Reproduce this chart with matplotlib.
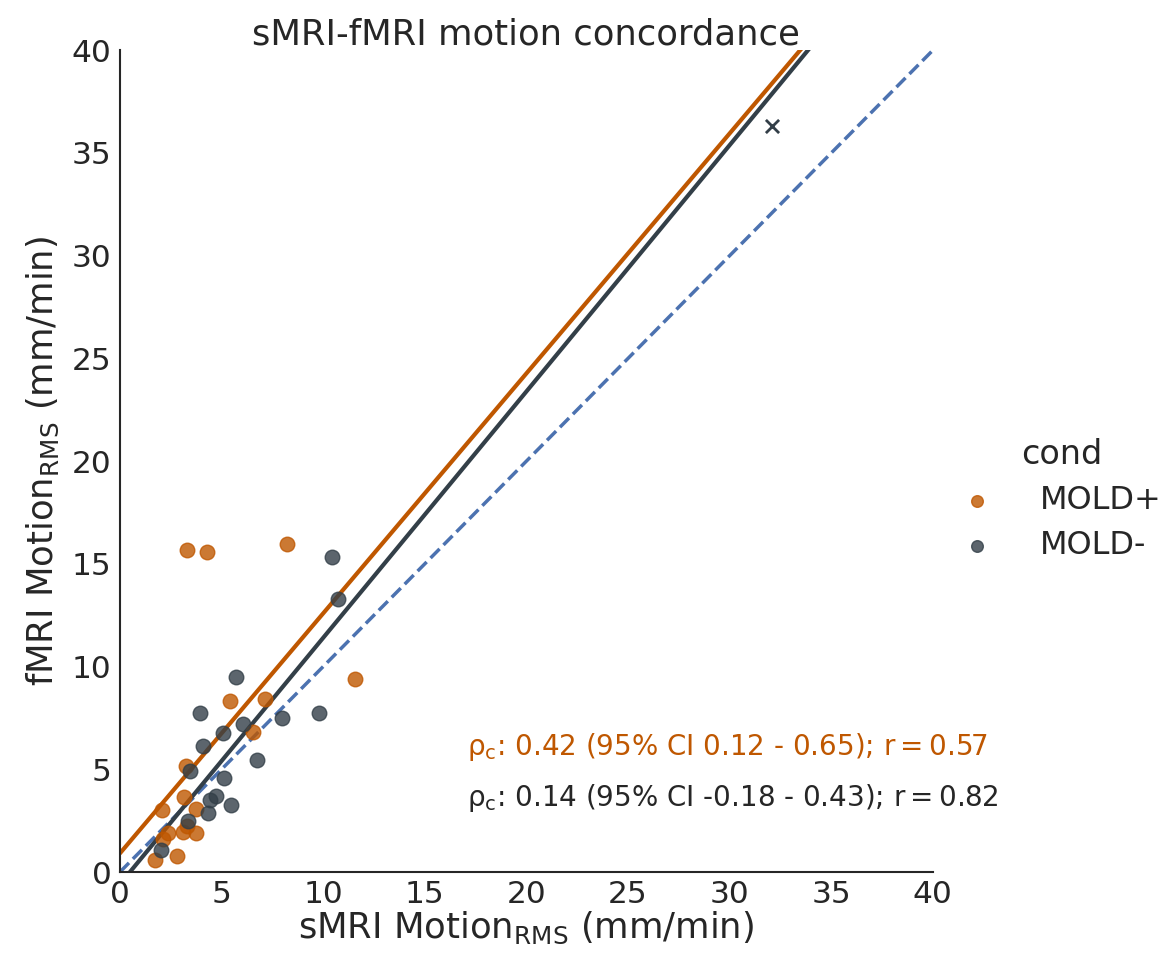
import numpy as np
import matplotlib
matplotlib.use("Agg")
import matplotlib.pyplot as plt
import seaborn as sns

sns.set_style("white")
plt.rcParams['font.family'] = ['DejaVu Sans']
plt.rcParams['mathtext.default'] = 'regular'

ORANGE = "#BF5700"
CHARCOAL = "#333F48"
BLUE = "#4C72B0"

# MOLD+ (sMRI, fMRI) motion values
plus_x = [3.28, 4.26, 8.20, 11.56, 5.41, 7.13, 6.53, 3.23, 3.15, 3.74, 2.05,
          2.38, 2.13, 3.08, 3.74, 3.30, 1.72, 2.79]
plus_y = [15.67, 15.59, 15.96, 9.38, 8.32, 8.42, 6.80, 5.16, 3.67, 3.08, 3.02,
          1.91, 1.63, 1.96, 1.88, 2.25, 0.58, 0.78]
# MOLD- values
minus_x = [10.45, 10.74, 5.69, 3.94, 9.79, 7.99, 6.07, 5.08, 4.10, 6.72, 3.44,
           5.12, 4.71, 4.43, 5.45, 4.31, 3.33, 2.00]
minus_y = [15.34, 13.27, 9.51, 7.75, 7.75, 7.51, 7.20, 6.75, 6.13, 5.45, 4.91,
           4.59, 3.70, 3.50, 3.24, 2.85, 2.50, 1.07]
# excluded outlier
out_x, out_y = [32.08], [36.30]

# fitted lines (intercept, slope)
plus_fit = (0.91, 1.168)
minus_fit = (-0.59, 1.199)

fig = plt.figure(figsize=(11.6, 9.66), dpi=100)
ax = fig.add_axes([0.1034, 0.0973, 0.7008, 0.8507])

xs = np.array([0, 40])
ax.plot(xs, xs, "--", color=BLUE, lw=2.5, zorder=1)
ax.plot(xs, plus_fit[0] + plus_fit[1]*xs, color=ORANGE, lw=3, zorder=2)
ax.plot(xs, minus_fit[0] + minus_fit[1]*xs, color=CHARCOAL, lw=3, zorder=2)

ax.scatter(plus_x, plus_y, s=110, color=ORANGE, alpha=0.8, edgecolor=ORANGE,
           linewidth=1, label="MOLD+", zorder=3)
ax.scatter(minus_x, minus_y, s=110, color=CHARCOAL, alpha=0.8, edgecolor=CHARCOAL,
           linewidth=1, label="MOLD-", zorder=3)
ax.scatter(out_x, out_y, marker="x", s=90, color=CHARCOAL, linewidth=2, zorder=3)

ax.text(17.1, 5.7, r"$\rho_c$: 0.42 (95% CI 0.12 - 0.65); $r = 0.57$",
        color=ORANGE, fontsize=20)
ax.text(17.1, 3.2, r"$\rho_c$: 0.14 (95% CI -0.18 - 0.43); $r = 0.82$",
        color="#262626", fontsize=20)

ax.set_xlim(0, 40); ax.set_ylim(0, 40)
ax.set_xticks(range(0, 41, 5)); ax.set_yticks(range(0, 41, 5))
ax.tick_params(labelsize=22.5, colors="#262626", length=0, pad=6)
ax.set_xlabel(r"sMRI Motion$_{RMS}$ (mm/min)", fontsize=25.5, color="#262626", labelpad=0)
ax.set_ylabel(r"fMRI Motion$_{RMS}$ (mm/min)", fontsize=25.5, color="#262626", labelpad=8)
ax.set_title("sMRI-fMRI motion concordance", fontsize=25.5, color="#262626", pad=4)
for s in ["top", "right"]:
    ax.spines[s].set_visible(False)
for s in ["left", "bottom"]:
    ax.spines[s].set_color("#262626"); ax.spines[s].set_linewidth(1.5)

h, l = ax.get_legend_handles_labels()
leg = fig.legend(h, l, title="cond", loc="center left", bbox_to_anchor=(0.804, 0.483),
                 frameon=False, fontsize=23, title_fontsize=24, markerscale=0.8,
                 handletextpad=1.45, labelspacing=0.45, handlelength=1.0)
for t in leg.get_texts():
    t.set_color("#262626")
leg.get_title().set_color("#262626")

fig.savefig("out.png", dpi=100)
